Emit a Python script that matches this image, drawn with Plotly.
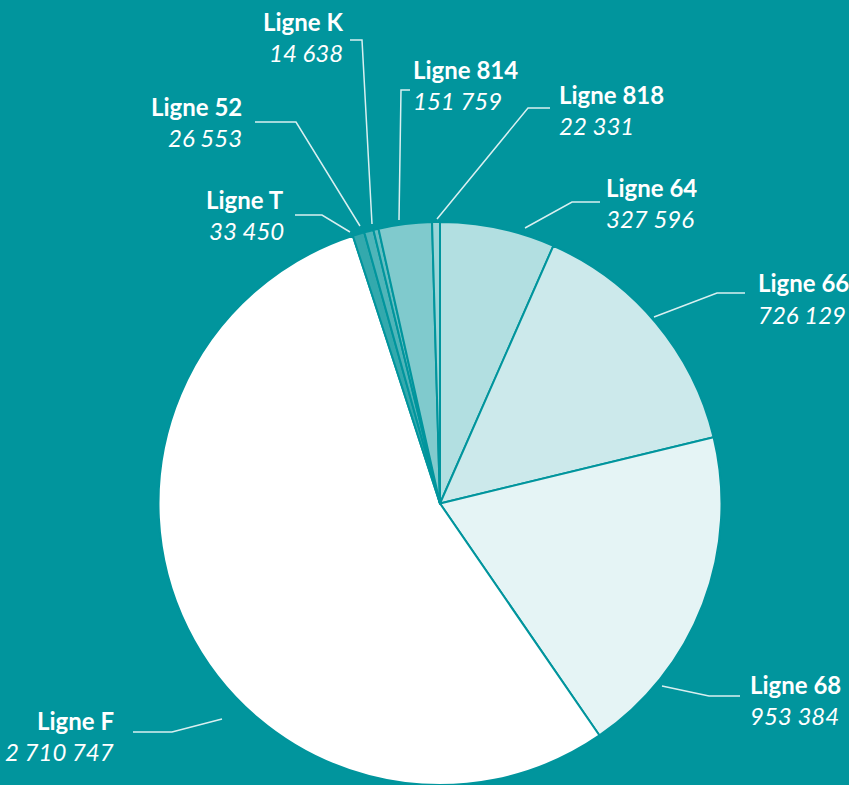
import plotly.graph_objects as go

W, H = 849, 785
BG = "#01959d"

lines = ["Ligne 64", "Ligne 66", "Ligne 68", "Ligne F", "Ligne T",
         "Ligne 52", "Ligne K", "Ligne 814", "Ligne 818"]
values = [327596, 726129, 953384, 2710747, 33450, 26553, 14638, 151759, 22331]
colors = ["#b2dfe1", "#cce9eb", "#e5f4f5", "#ffffff", "#33a9ad",
          "#4fb5b9", "#66bfc2", "#80cacd", "#9ad5d8"]

# label layout (pixels): anchor side, x, y of name line, leader polyline
label_layout = {
    "Ligne 64":  ("left", 604, 188, [(600, 202), (572, 202), (525, 228)]),
    "Ligne 66":  ("left", 756, 283, [(745, 293), (717, 293), (654, 317)]),
    "Ligne 68":  ("left", 748, 684, [(740, 696), (709, 696), (662, 686)]),
    "Ligne F":   ("right", 116, 720, [(133, 732), (172, 732), (222, 719)]),
    "Ligne T":   ("right", 286, 200, [(295, 215), (322, 215), (350, 232)]),
    "Ligne 52":  ("right", 244, 107, [(255, 122), (296, 122), (360, 226)]),
    "Ligne K":   ("right", 345, 22, [(350, 40), (362, 40), (372, 224)]),
    "Ligne 814": ("left", 411, 70, [(410, 90), (401, 90), (399, 220)]),
    "Ligne 818": ("left", 557, 95, [(550, 108), (528, 108), (437, 219)]),
}

def px(x):
    return x / W

def py(y):
    return 1 - y / H

cx, cy, r = 440, 504, 282

fig = go.Figure(go.Pie(
    labels=lines,
    values=values,
    sort=False,
    direction="clockwise",
    rotation=0,
    marker=dict(colors=colors, line=dict(color=BG, width=2)),
    textinfo="none",
    hoverinfo="label+value",
    showlegend=False,
    domain=dict(x=[px(cx - r), px(cx + r)], y=[0, py(cy - r)]),
))

FONT = "Lato, 'Open Sans', sans-serif"
annotations = []
shapes = []
for name, val in zip(lines, values):
    side, x, y, pts = label_layout[name]
    num = f"{val:,}".replace(",", " ")
    annotations.append(dict(
        x=px(x), y=py(y), xref="paper", yref="paper",
        text=f"<b>{name}</b>", showarrow=False,
        xanchor=side, yanchor="middle",
        font=dict(family=FONT, size=24, color="white"),
    ))
    annotations.append(dict(
        x=px(x), y=py(y + 31), xref="paper", yref="paper",
        text=f"<i>{num}</i>", showarrow=False,
        xanchor=side, yanchor="middle",
        font=dict(family=FONT, size=24, color="white"),
    ))
    path = "M " + " L ".join(f"{px(a)},{py(b)}" for a, b in pts)
    shapes.append(dict(type="path", path=path, xref="paper", yref="paper",
                       line=dict(color="rgba(255,255,255,0.85)", width=1.5)))

fig.update_layout(
    width=W, height=H,
    paper_bgcolor=BG, plot_bgcolor=BG,
    margin=dict(l=0, r=0, t=0, b=0),
    annotations=annotations,
    shapes=shapes,
)

fig.write_html("out.html",
               config={"displayModeBar": False},
               post_script="document.body.style.margin='0';document.body.style.overflow='hidden';")
